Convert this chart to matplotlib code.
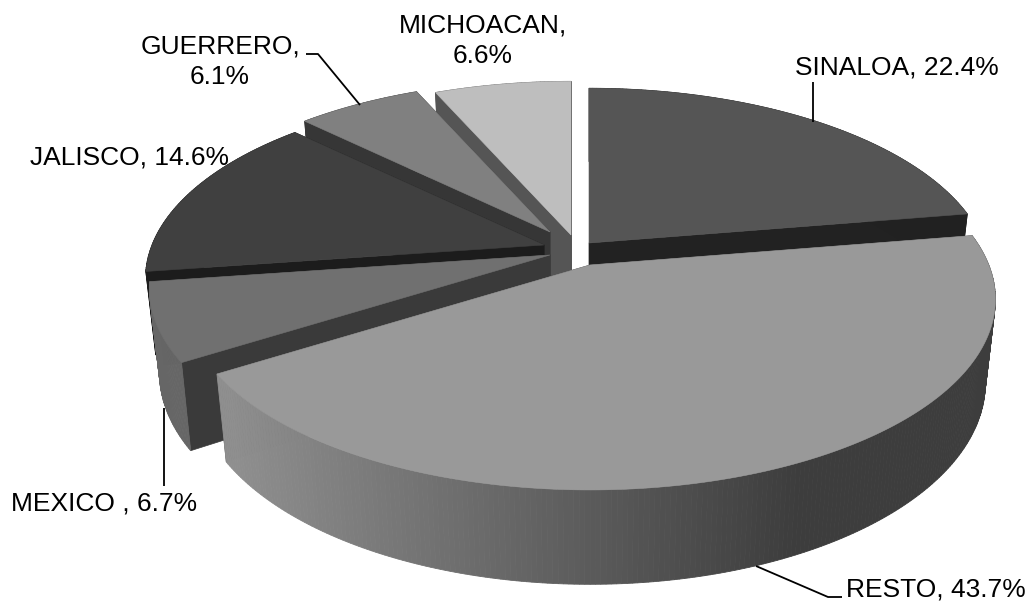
#!/usr/bin/python3

import numpy as np
import matplotlib
matplotlib.use('Agg')
import matplotlib.pyplot as plt
matplotlib.rcParams['font.family'] = ['Liberation Sans', 'DejaVu Sans']

names = ['SINALOA', 'RESTO', 'MEXICO', 'JALISCO', 'GUERRERO', 'MICHOACAN']
values = [22.4, 43.7, 6.7, 14.6, 6.1, 6.6]

# where each slice was pulled out to, and its size
apex = {'SINALOA': (589, 243), 'RESTO': (590, 265), 'MEXICO': (550, 255),
        'JALISCO': (544, 245), 'GUERRERO': (550, 232), 'MICHOACAN': (571, 235)}
scale = {'SINALOA': 0.987, 'RESTO': 0.997, 'MEXICO': 0.985,
         'JALISCO': 0.98, 'GUERRERO': 0.965, 'MICHOACAN': 0.98}
top_col = {'SINALOA': '#555555', 'RESTO': '#999999', 'MEXICO': '#707070',
           'JALISCO': '#404040', 'GUERRERO': '#808080', 'MICHOACAN': '#bebebe'}
wall_col = {'SINALOA': '#222222', 'RESTO': '#444444', 'MEXICO': '#3a3a3a',
            'JALISCO': '#1c1c1c', 'GUERRERO': '#363636', 'MICHOACAN': '#555555'}
# outer rim colour at the right and left end of the front
rim_col = {'SINALOA': (0.13, 0.13), 'RESTO': (0.24, 0.56), 'MEXICO': (0.36, 0.40),
           'JALISCO': (0.11, 0.11), 'GUERRERO': (0.21, 0.21), 'MICHOACAN': (0.333, 0.333)}
draw_order = ['MICHOACAN', 'GUERRERO', 'JALISCO', 'SINALOA', 'MEXICO', 'RESTO']

RX, RY, K, DEPTH, SHRINK = 400.0, 185.0, 0.18, 82.0, 0.975

def project(name, theta, lower=False):
    # theta clockwise from 12 o'clock, radians
    s = 1.0 / (1.0 + K * np.cos(theta))
    x = RX * scale[name] * np.sin(theta) * s
    y = -RY * scale[name] * np.cos(theta) * s
    ax0, ay0 = apex[name]
    if lower:
        return ax0 + x * SHRINK, ay0 + y * SHRINK + DEPTH * s
    return ax0 + x, ay0 + y

fig = plt.figure(figsize=(10.32, 6.07), dpi=100)
ax = fig.add_axes([0, 0, 1, 1])
ax.set_xlim(0, 1032)
ax.set_ylim(607, 0)
ax.axis('off')

ends = np.cumsum(values) / np.sum(values) * 2 * np.pi
starts = np.concatenate([[0], ends[:-1]])
span = dict(zip(names, zip(starts, ends)))

for name in draw_order:
    t1, t2 = span[name]
    ax0, ay0 = apex[name]
    # flat cut faces
    for t in (t2, t1):
        x, y = project(name, t)
        xl, yl = project(name, t, True)
        ax.fill([ax0, x, xl, ax0], [ay0, y, yl, ay0 + DEPTH], color=wall_col[name], lw=0.5)
    # outer rim, a strip of small quads so it can shade across the front
    th = np.linspace(t1, t2, max(int((t2 - t1) * 90), 4))
    for a, b in zip(th[:-1], th[1:]):
        xa, ya = project(name, a)
        xb, yb = project(name, b)
        xc, yc = project(name, b, True)
        xd, yd = project(name, a, True)
        f = np.clip((xa - 990) / (230 - 990), 0, 1)
        f = np.clip((f - 0.25) / 0.75, 0, 1)
        g = rim_col[name][0] + (rim_col[name][1] - rim_col[name][0]) * f
        ax.fill([xa, xb, xc, xd], [ya, yb, yc, yd], color=str(g), lw=0.6)
    # top face
    x, y = project(name, th)
    ax.fill(np.r_[ax0, x], np.r_[ay0, y], color=top_col[name], lw=0.4)

# leader lines
lead = dict(color='black', lw=1.3, solid_capstyle='butt')
ax.plot([813, 813], [82, 122], **lead)
ax.plot([306, 318, 360], [54, 54, 105], **lead)
ax.plot([164, 164], [408, 486], **lead)
ax.plot([756, 828, 842], [566, 597, 597], **lead)

fs = 19
pct = dict(zip(names, values))
ax.text(999, 67, 'SINALOA, %.1f%%' % pct['SINALOA'], fontsize=fs, ha='right', va='center')
ax.text(1026, 589, 'RESTO, %.1f%%' % pct['RESTO'], fontsize=fs, ha='right', va='center')
ax.text(104, 503, 'MEXICO , %.1f%%' % pct['MEXICO'], fontsize=fs, ha='center', va='center')
ax.text(129, 158, 'JALISCO, %.1f%%' % pct['JALISCO'], fontsize=fs, ha='center', va='center')
ax.text(220, 62, 'GUERRERO,\n%.1f%%' % pct['GUERRERO'], fontsize=fs, ha='center', va='center', linespacing=1.36)
ax.text(483, 41, 'MICHOACAN,\n%.1f%%' % pct['MICHOACAN'], fontsize=fs, ha='center', va='center', linespacing=1.36)

fig.savefig('out.png', dpi=100)
